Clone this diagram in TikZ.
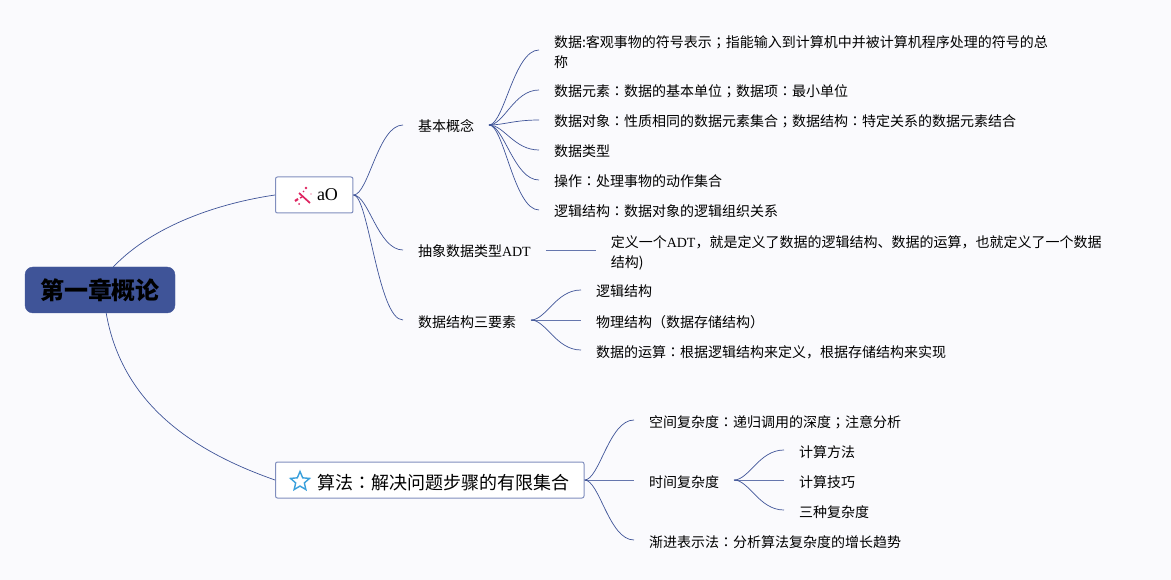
\documentclass[tikz,border=0pt]{standalone}
\usepackage{fontspec}
\setmainfont{Noto Sans CJK SC}
\newfontfamily\latfont{Liberation Serif}
\newfontfamily\twfont{Noto Sans CJK TC}
\usetikzlibrary{shapes.geometric,positioning}
\definecolor{mapblue}{RGB}{63,84,152}
\definecolor{maprim}{RGB}{128,142,190}
\definecolor{paper}{RGB}{250,250,253}
\definecolor{wandpink}{RGB}{222,36,96}
\definecolor{starblue}{RGB}{58,160,220}
\newcommand{\cln}{{\twfont ：}}
\newcommand{\smi}{{\twfont ；}}
\newcommand{\leafstrut}{\rule[-3pt]{0pt}{20pt}}
\newcommand{\topicstrut}{\rule[-8.5pt]{0pt}{36pt}}
\newcommand{\lowline}[1]{\raisebox{-9pt}[0pt][0pt]{#1}}

\begin{document}
\begin{tikzpicture}[
  x=1pt, y=-1pt,
  rootbox/.style = {rectangle, rounded corners=8pt, draw=mapblue, fill=mapblue,
                 minimum width=150pt, minimum height=46pt,
                 font=\fontsize{24}{28}\selectfont\bfseries},
  topic/.style  = {rectangle, rounded corners=2pt, draw=maprim, fill=white, line width=1pt,
                 inner xsep=15pt, inner ysep=0pt, anchor=west,
                 font=\fontsize{18}{22}\selectfont,
                 execute at begin node={\topicstrut\hspace*{26.5pt}}},
  leaf/.style   = {inner xsep=15pt, inner ysep=0pt, outer sep=0pt, anchor=west, align=left,
                 font=\fontsize{14}{20}\selectfont,
                 execute at begin node=\leafstrut, execute at end node=\leafstrut},
  link/.style   = {draw=mapblue, line width=0.7pt,
                 to path={.. controls +(15,0) and +(-25,0) .. (\tikztotarget)}},
  bar/.style    = {draw=mapblue!80, line width=0.8pt},
]
\fill[paper] (0,0) rectangle (1171,580);

\node[rootbox] (root) at (100,290) {\raisebox{-10pt}[0pt][0pt]{第一章概论}};
\node[topic] (concept) at (275,195) {\raisebox{3.5pt}{\latfont aO}};
\node[topic] (algo)    at (275,480) {算法\cln 解决问题步骤的有限集合};

% wand and star in front of the topics
\node[star, star points=5, star point ratio=2.2, draw=starblue, line width=1.4pt,
      minimum size=20pt, inner sep=0pt, right=18pt of algo.west, yshift=-1.5pt] (staricon) {};
\coordinate[right=28pt of concept.west] (wandicon);
\begin{scope}[shift={(wandicon)}, wandpink]
  \draw[line width=1.7pt] (-4,-2) -- (7,8);
  \draw[line width=2.2pt] (-8,6) -- (-5,4);
  \draw[line width=1.5pt] (-3,3) -- (-1,2);
  \draw[line width=1.4pt] (0,-3) -- (1,-4);
  \fill (3,-7) circle (1.4pt) (8,-1) circle (0.7pt) (-4,9) circle (1pt);
\end{scope}

% first topic
\node[leaf] (basic) at (403,125) {基本概念};
\node[leaf] (adt)   at (403,250) {抽象数据类型{\latfont ADT}};
\node[leaf] (three) at (403,320) {数据结构三要素};

\node[leaf] (b1) at (539,50) {\lowline{数据:客观事物的符号表示\smi 指能输入到计算机中并被计算机程序处理的符号的总}\\\lowline{称}};
\node[leaf] (b2) at (539,90) {数据元素\cln 数据的基本单位\smi 数据项\cln 最小单位};
\node[leaf, below=10pt of b2.south west, anchor=north west] (b3) {数据对象\cln 性质相同的数据元素集合\smi 数据结构\cln 特定关系的数据元素结合};
\node[leaf, below=10pt of b3.south west, anchor=north west] (b4) {数据类型};
\node[leaf, below=10pt of b4.south west, anchor=north west] (b5) {操作\cln 处理事物的动作集合};
\node[leaf, below=10pt of b5.south west, anchor=north west] (b6) {逻辑结构\cln 数据对象的逻辑组织关系};

\node[leaf, right=50pt of adt] (a1) {\lowline{定义一个{\latfont ADT}，就是定义了数据的逻辑结构、数据的运算，也就定义了一个数据}\\\lowline{结构)}};

\node[leaf, right=50pt of three] (t2) {物理结构（数据存储结构）};
\node[leaf, above=10pt of t2.north west, anchor=south west] (t1) {逻辑结构};
\node[leaf, below=10pt of t2.south west, anchor=north west] (t3) {数据的运算\cln 根据逻辑结构来定义，根据存储结构来实现};

% second topic
\node[leaf] (time) at (634,480) {时间复杂度};
\node[leaf] (space) at (634,420) {空间复杂度\cln 递归调用的深度\smi 注意分析};
\node[leaf] (asym)  at (634,540) {渐进表示法\cln 分析算法复杂度的增长趋势};

\node[leaf, right=50pt of time] (m2) {计算技巧};
\node[leaf, above=10pt of m2.north west, anchor=south west] (m1) {计算方法};
\node[leaf, below=10pt of m2.south west, anchor=north west] (m3) {三种复杂度};

\draw[link=] (root.60) .. controls +(40,-42) and +(-55,8) .. (concept.west);
\draw[link=] (root.-75) .. controls +(16,92) and +(-80,-28) .. (algo.west);

\draw[link] (concept.east) to (basic.west);
\draw[link] (concept.east) to (adt.west);
\draw[link] (concept.east) to (three.west);

\draw[link] (basic.east) to (b1.west);
\draw[link] (basic.east) to (b2.west);
\draw[link] (basic.east) to (b3.west);
\draw[link] (basic.east) to (b4.west);
\draw[link] (basic.east) to (b5.west);
\draw[link] (basic.east) to (b6.west);

\draw[bar] (adt.east) -- (a1.west);

\draw[link] (three.east) to (t1.west);
\draw[bar]  (three.east) -- (t2.west);
\draw[link] (three.east) to (t3.west);

\draw[link] (algo.east) to (space.west);
\draw[bar]  (algo.east) -- (time.west);
\draw[link] (algo.east) to (asym.west);

\draw[link] (time.east) to (m1.west);
\draw[bar]  (time.east) -- (m2.west);
\draw[link] (time.east) to (m3.west);
\end{tikzpicture}
\end{document}
